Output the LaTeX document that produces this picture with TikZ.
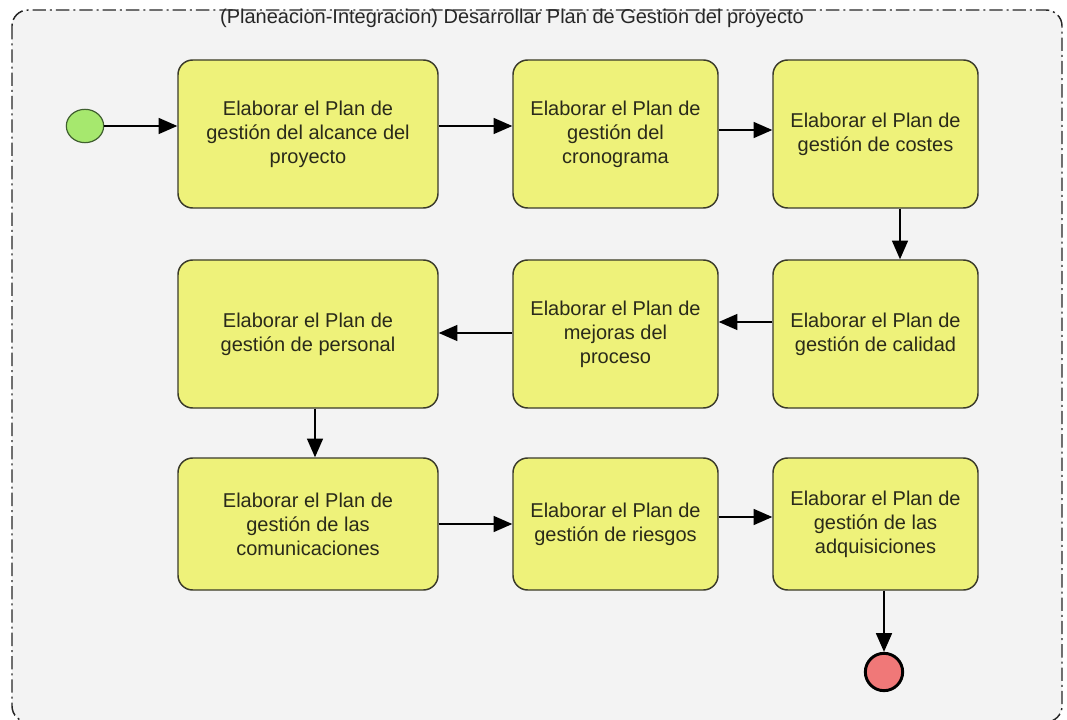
\documentclass[tikz,border=0pt]{standalone}
\usepackage{fontspec}
\setmainfont{Liberation Sans}
\usetikzlibrary{arrows.meta,calc}
\definecolor{panelbg}{HTML}{F3F3F3}
\definecolor{actfill}{HTML}{EEF27A}
\definecolor{actline}{HTML}{3A3A2A}
\definecolor{acttext}{HTML}{2A2A1A}
\definecolor{startfill}{HTML}{A6E86E}
\definecolor{startline}{HTML}{3F5F2F}
\definecolor{endfill}{HTML}{F07878}
\tikzset{
  activity/.style={draw=actline, line width=1.1pt, fill=actfill, rounded corners=11pt,
    align=center, text=acttext, font=\fontsize{15}{18}\selectfont,
    minimum width=153.75pt, minimum height=111pt, inner sep=0pt},
  wide/.style={minimum width=195pt},
  short/.style={minimum height=99pt},
  flow/.style={draw=black, line width=1.1pt, -{Triangle[length=14pt,width=12pt]}},
  startnode/.style={ellipse, draw=startline, line width=0.9pt, fill=startfill,
    minimum width=28pt, minimum height=25pt, inner sep=0pt},
  endnode/.style={circle, draw=black, line width=2.2pt, fill=endfill,
    minimum size=28pt, inner sep=0pt},
}
\usetikzlibrary{shapes.geometric}
\begin{document}
\begin{tikzpicture}[x=0.75pt,y=-0.75pt]
\useasboundingbox (0,0) rectangle (1067,720);
\fill[white] (0,0) rectangle (1067,720);
% activity partition frame
\draw[fill=panelbg, draw=black!85, line width=1.1pt, rounded corners=12pt,
  dash pattern=on 10pt off 3pt on 1.5pt off 3pt] (12,10) rectangle (1062,722);
\node[font=\fontsize{15}{18}\selectfont, text=black!85, anchor=base] (title) at (512,24)
  {(Planeacion-Integracion) Desarrollar Plan de Gestion del proyecto};

% start and end
\node[startnode] (start) at (85,126) {};
\node[endnode] (finish) at (884,672) {};

% activities
\node[activity, wide] (b1) at (308,134) {Elaborar el Plan de\\gestión del alcance del\\proyecto};
\node[activity] (b2) at (615.5,134) {Elaborar el Plan de\\gestión del\\cronograma};
\node[activity] (b3) at (875.5,134) {Elaborar el Plan de\\gestión de costes};
\node[activity, wide] (b4) at (308,334) {Elaborar el Plan de\\gestión de personal};
\node[activity] (b5) at (615.5,334) {Elaborar el Plan de\\mejoras del\\proceso};
\node[activity] (b6) at (875.5,334) {Elaborar el Plan de\\gestión de calidad};
\node[activity, wide, short] (b7) at (308,524) {Elaborar el Plan de\\gestión de las\\comunicaciones};
\node[activity, short] (b8) at (615.5,524) {Elaborar el Plan de\\gestión de riesgos};
\node[activity, short] (b9) at (875.5,524) {Elaborar el Plan de\\gestión de las\\adquisiciones};

% control flows
\draw[flow] (start.east) -- (start.east -| b1.west);
\draw[flow] ($(b1.east)+(0,-8)$) -- ($(b2.west)+(0,-8)$);
\draw[flow] ($(b2.east)+(0,-4)$) -- ($(b3.west)+(0,-4)$);
\draw[flow] ($(b3.south)+(24.5,0)$) -- ($(b6.north)+(24.5,0)$);
\draw[flow] ($(b6.west)+(0,-12)$) -- ($(b5.east)+(0,-12)$);
\draw[flow] ($(b5.west)+(0,-1)$) -- ($(b4.east)+(0,-1)$);
\draw[flow] ($(b4.south)+(7,0)$) -- ($(b7.north)+(7,0)$);
\draw[flow] (b7.east) -- (b8.west);
\draw[flow] ($(b8.east)+(0,-7)$) -- ($(b9.west)+(0,-7)$);
\draw[flow] (b9.south -| finish) -- (finish.north);
\end{tikzpicture}
\end{document}
